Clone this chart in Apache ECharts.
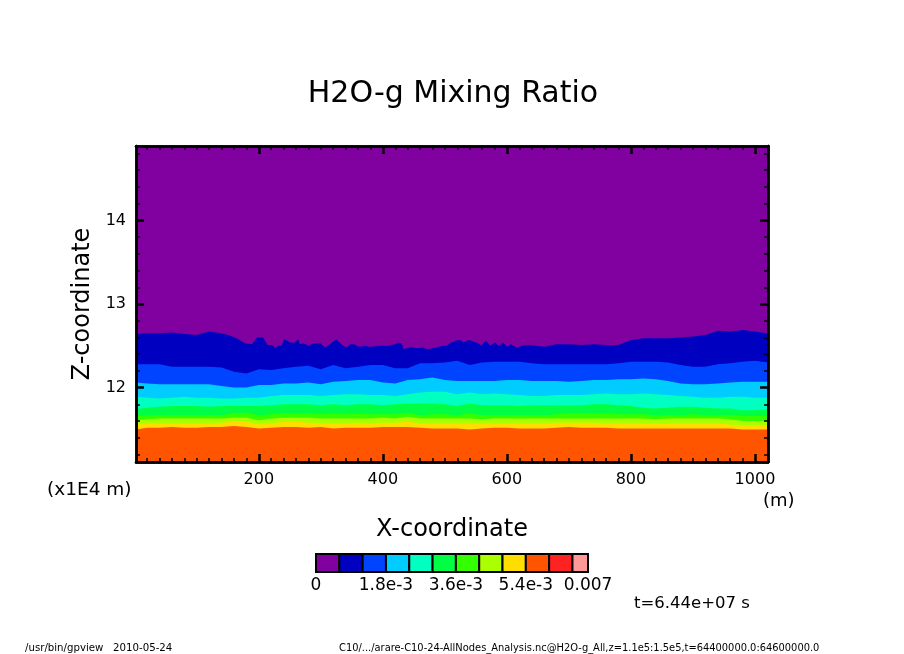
<!DOCTYPE html>
<html>
<head>
<meta charset="utf-8">
<title>H2O-g Mixing Ratio</title>
<style>html,body{margin:0;padding:0;background:#fff}#chart{width:904px;height:654px}</style>
<script src="https://cdn.jsdelivr.net/npm/echarts@6/dist/echarts.min.js"></script>
</head>
<body>
<div id="chart"></div>
<script>
const xCoord = [2,20,40,60,80,100,120,140,160,180,200,220,240,260,280,300,320,340,360,380,400,420,440,460,480,500,520,
  540,560,580,600,620,640,660,680,700,720,740,760,780,800,820,840,860,880,900,920,940,960,980,1000,1021];

// the top edge is rough in the middle, so it gets its own finer samples
const band1X = [2,20,40,60,80,100,120,140,154,164,178,189,197,207,214,221,226,232,237,240,246,250,258,264,266,272,280,288,299,307,318,325,334,342,347,354,361,371,379,
  396,409,420,425,430,434,439,449,457,465,471,479,487,495,503,508,516,525,530,538,546,554,559,566,573,581,586,594,600,606,616,624,637,
  660,680,700,720,740,760,780,800,820,840,860,880,900,920,940,960,980,1000,1021];
const band1 = [12.64,12.65,12.65,12.66,12.64,12.63,12.67,12.65,12.62,12.59,12.53,12.52,12.60,12.60,12.51,12.51,12.48,12.50,12.50,12.58,12.56,12.54,12.54,12.58,12.52,12.53,12.50,12.53,12.53,12.48,12.54,12.58,12.51,12.48,12.52,12.52,12.49,12.50,12.49,
  12.50,12.50,12.52,12.54,12.53,12.46,12.48,12.48,12.47,12.48,12.46,12.47,12.48,12.50,12.50,12.53,12.56,12.57,12.54,12.57,12.55,12.53,12.50,12.57,12.50,12.54,12.50,12.54,12.49,12.52,12.48,12.50,12.51,
  12.49,12.52,12.52,12.51,12.52,12.51,12.51,12.57,12.59,12.59,12.59,12.60,12.61,12.63,12.68,12.67,12.69,12.67,12.65];

// top edge of each colour band, in units of 1E4 m
const band2 = [12.28,12.28,12.28,12.25,12.25,12.25,12.25,12.24,12.19,12.17,12.22,12.21,12.23,12.25,12.26,12.22,12.27,12.23,12.25,12.27,12.27,12.23,12.23,12.29,12.29,12.30,12.32,
  12.27,12.30,12.31,12.31,12.31,12.29,12.28,12.28,12.28,12.28,12.28,12.28,12.29,12.31,12.31,12.31,12.30,12.27,12.25,12.25,12.28,12.29,12.31,12.32,12.30];
const band3 = [12.06,12.05,12.04,12.04,12.04,12.04,12.04,12.02,12.00,12.00,12.03,12.03,12.05,12.05,12.06,12.04,12.07,12.08,12.09,12.09,12.06,12.05,12.09,12.10,12.12,12.09,12.08,
  12.08,12.08,12.08,12.09,12.09,12.08,12.08,12.08,12.07,12.08,12.09,12.09,12.10,12.10,12.11,12.10,12.08,12.05,12.04,12.04,12.05,12.06,12.07,12.07,12.07];
const band4 = [11.89,11.88,11.87,11.88,11.89,11.88,11.88,11.87,11.87,11.88,11.88,11.90,11.91,11.91,11.91,11.90,11.91,11.92,11.92,11.91,11.91,11.90,11.92,11.94,11.95,11.95,11.92,
  11.94,11.92,11.93,11.92,11.91,11.90,11.90,11.91,11.91,11.91,11.92,11.93,11.92,11.92,11.93,11.92,11.91,11.90,11.89,11.88,11.88,11.89,11.89,11.88,11.88];
const band5 = [11.74,11.76,11.77,11.78,11.78,11.78,11.77,11.78,11.78,11.78,11.78,11.79,11.80,11.80,11.80,11.79,11.80,11.79,11.80,11.80,11.79,11.80,11.81,11.81,11.81,11.80,11.78,
  11.81,11.79,11.79,11.79,11.78,11.79,11.79,11.79,11.79,11.79,11.80,11.80,11.79,11.78,11.76,11.75,11.76,11.77,11.77,11.76,11.75,11.75,11.73,11.73,11.74];
const band6 = [11.66,11.67,11.67,11.67,11.67,11.67,11.67,11.67,11.69,11.70,11.67,11.68,11.69,11.69,11.69,11.68,11.69,11.68,11.69,11.68,11.68,11.68,11.70,11.67,11.68,11.68,11.67,
  11.69,11.67,11.67,11.67,11.67,11.67,11.67,11.68,11.69,11.69,11.69,11.69,11.68,11.68,11.68,11.67,11.67,11.67,11.68,11.67,11.67,11.67,11.66,11.66,11.66];
const band7 = [11.61,11.62,11.63,11.63,11.63,11.63,11.63,11.63,11.64,11.64,11.61,11.63,11.64,11.64,11.64,11.63,11.63,11.63,11.63,11.63,11.64,11.63,11.65,11.63,11.63,11.63,11.63,
  11.63,11.62,11.63,11.63,11.63,11.63,11.63,11.63,11.63,11.63,11.63,11.63,11.63,11.63,11.63,11.62,11.63,11.63,11.63,11.63,11.63,11.62,11.60,11.60,11.60];
const band8 = [11.56,11.57,11.57,11.57,11.57,11.57,11.57,11.58,11.60,11.59,11.56,11.57,11.59,11.59,11.58,11.57,11.57,11.57,11.58,11.57,11.58,11.58,11.59,11.57,11.57,11.57,11.57,
  11.57,11.57,11.57,11.57,11.57,11.57,11.57,11.58,11.58,11.58,11.58,11.57,11.57,11.57,11.57,11.57,11.57,11.57,11.57,11.57,11.57,11.56,11.55,11.55,11.55];
const band9 = [11.50,11.52,11.52,11.53,11.52,11.52,11.53,11.53,11.54,11.53,11.51,11.52,11.53,11.53,11.52,11.53,11.51,11.52,11.52,11.52,11.53,11.53,11.53,11.52,11.51,11.51,11.51,
  11.50,11.51,11.52,11.52,11.51,11.51,11.51,11.52,11.53,11.52,11.52,11.52,11.51,11.51,11.51,11.51,11.51,11.51,11.51,11.51,11.51,11.51,11.50,11.50,11.50];

const bands = [band1, band2, band3, band4, band5, band6, band7, band8, band9];

const palette = ['#8000a0','#0000c0','#0044ff','#00ccff','#00ffc0','#00ff44','#33ff00','#aaff00','#ffdd00','#ff5500','#ff2222','#ff9999'];
const colorLevels = [0,0.0006,0.0012,0.0018,0.0024,0.003,0.0036,0.0042,0.0048,0.0054,0.006,0.0066,0.007];
const colorTicks = [0,0.0018,0.0036,0.0054,0.007];
const colorTickLabels = ['0','1.8e-3','3.6e-3','5.4e-3','0.007'];

const xMajor = [200,400,600,800,1000];
const xMinor = [20,40,60,80,100,120,140,160,180,220,240,260,280,300,320,340,360,380,420,440,460,480,500,520,540,560,580,
  620,640,660,680,700,720,740,760,780,820,840,860,880,900,920,940,960,980,1020];
const zMajor = [12,13,14];
const zMinor = [11.2,11.4,11.6,11.8,12.2,12.4,12.6,12.8,13.2,13.4,13.6,13.8,14.2,14.4,14.6,14.8];

const fontFamily = '"DejaVu Sans"';
const xRange = { min: 2, max: 1021 };
const zRange = { min: 11.11, max: 14.89 };

function frameAxis(range, gridIndex, position, ticks, len, width, labelled) {
  return Object.assign({
    type: 'value', gridIndex, position, z: 10, scale: true,
    splitLine: { show: false },
    axisLine: { show: true, onZero: false, lineStyle: { color: '#000', width: 2.5 } },
    axisTick: { show: true, inside: true, length: len, customValues: ticks, lineStyle: { color: '#000', width } },
    axisLabel: labelled
      ? { show: true, customValues: ticks, color: '#000', fontFamily, fontSize: 16, margin: 10, hideOverlap: false,
          showMinLabel: true, showMaxLabel: true, formatter: (v) => String(v) }
      : { show: false }
  }, range);
}

const plotRect = { left: 136, top: 146, width: 632, height: 316 };

const xLabelled = frameAxis(xRange, 0, 'bottom', xMajor, 8, 2.5, true);
xLabelled.name = 'X-coordinate';
xLabelled.nameLocation = 'middle';
xLabelled.nameGap = 56;
xLabelled.nameTextStyle = { color: '#000', fontFamily, fontSize: 24 };

const zLabelled = frameAxis(zRange, 0, 'left', zMajor, 8, 2.5, true);
zLabelled.name = 'Z-coordinate';
zLabelled.nameLocation = 'middle';
zLabelled.nameGap = 41;
zLabelled.nameTextStyle = { color: '#000', fontFamily, fontSize: 24 };

const option = {
  animation: false,
  backgroundColor: '#fff',
  title: {
    text: 'H2O-g Mixing Ratio', left: 448, top: 74, textAlign: 'center',
    textStyle: { color: '#000', fontFamily, fontSize: 30, fontWeight: 'normal' }
  },
  grid: [
    Object.assign({ show: true, backgroundColor: palette[0], borderWidth: 0 }, plotRect),
    Object.assign({ show: false }, plotRect),
    { left: 316, top: 554, width: 272, height: 18, show: false }
  ],
  xAxis: [
    xLabelled,
    frameAxis(xRange, 0, 'top', xMajor, 8, 2.5, false),
    frameAxis(xRange, 1, 'bottom', xMinor, 4, 1.5, false),
    frameAxis(xRange, 1, 'top', xMinor, 4, 1.5, false),
    {
      type: 'value', gridIndex: 2, min: 0, max: 0.007, splitLine: { show: false },
      axisLine: { show: false }, axisTick: { show: false },
      axisLabel: {
        customValues: colorTicks, color: '#000', fontFamily, fontSize: 17, margin: 5, hideOverlap: false,
        showMinLabel: true, showMaxLabel: true,
        formatter: (v) => colorTickLabels[colorTicks.indexOf(v)]
      }
    }
  ],
  yAxis: [
    zLabelled,
    frameAxis(zRange, 0, 'right', zMajor, 8, 2.5, false),
    frameAxis(zRange, 1, 'left', zMinor, 4, 1.5, false),
    frameAxis(zRange, 1, 'right', zMinor, 4, 1.5, false),
    { type: 'value', gridIndex: 2, min: 0, max: 1, show: false }
  ],
  series: bands.map((band, i) => ({
    type: 'line', xAxisIndex: 0, yAxisIndex: 0, showSymbol: false, silent: true,
    lineStyle: { width: 0 },
    areaStyle: { color: palette[i + 1], opacity: 1, origin: 'start' },
    z: 2 + i * 0.01,
    data: band.map((z, j) => [(band === band1 ? band1X : xCoord)[j], z])
  })).concat([{
    type: 'custom', xAxisIndex: 4, yAxisIndex: 4, silent: true, clip: false,
    encode: { x: [0, 1] },
    data: colorLevels.slice(0, -1).map((lo, i) => [lo, colorLevels[i + 1]]),
    renderItem(params, api) {
      const a = api.coord([api.value(0), 0]);
      const b = api.coord([api.value(1), 1]);
      return {
        type: 'rect',
        shape: { x: a[0], y: b[1], width: b[0] - a[0], height: a[1] - b[1] },
        style: { fill: palette[params.dataIndex], stroke: '#000', lineWidth: 2 }
      };
    }
  }]),
  graphic: [
    { type: 'text', left: 47, top: 481, style: { text: '(x1E4 m)', fill: '#000', font: '18.5px "DejaVu Sans"' } },
    { type: 'text', left: 763, top: 492, style: { text: '(m)', fill: '#000', font: '18px "DejaVu Sans"' } },
    { type: 'text', left: 634, top: 595, style: { text: 't=6.44e+07 s', fill: '#000', font: '16.5px "DejaVu Sans"' } },
    { type: 'text', left: 25, top: 643, style: { text: '/usr/bin/gpview   2010-05-24', fill: '#000', font: '10.2px "DejaVu Sans"' } },
    { type: 'text', left: 339, top: 643, style: { text: 'C10/.../arare-C10-24-AllNodes_Analysis.nc@H2O-g_All,z=1.1e5:1.5e5,t=64400000.0:64600000.0', fill: '#000', font: '9.9px "DejaVu Sans"' } }
  ]
};

const chart = echarts.init(document.getElementById('chart'), null, { renderer: 'canvas' });
chart.setOption(option);
</script>
</body>
</html>
